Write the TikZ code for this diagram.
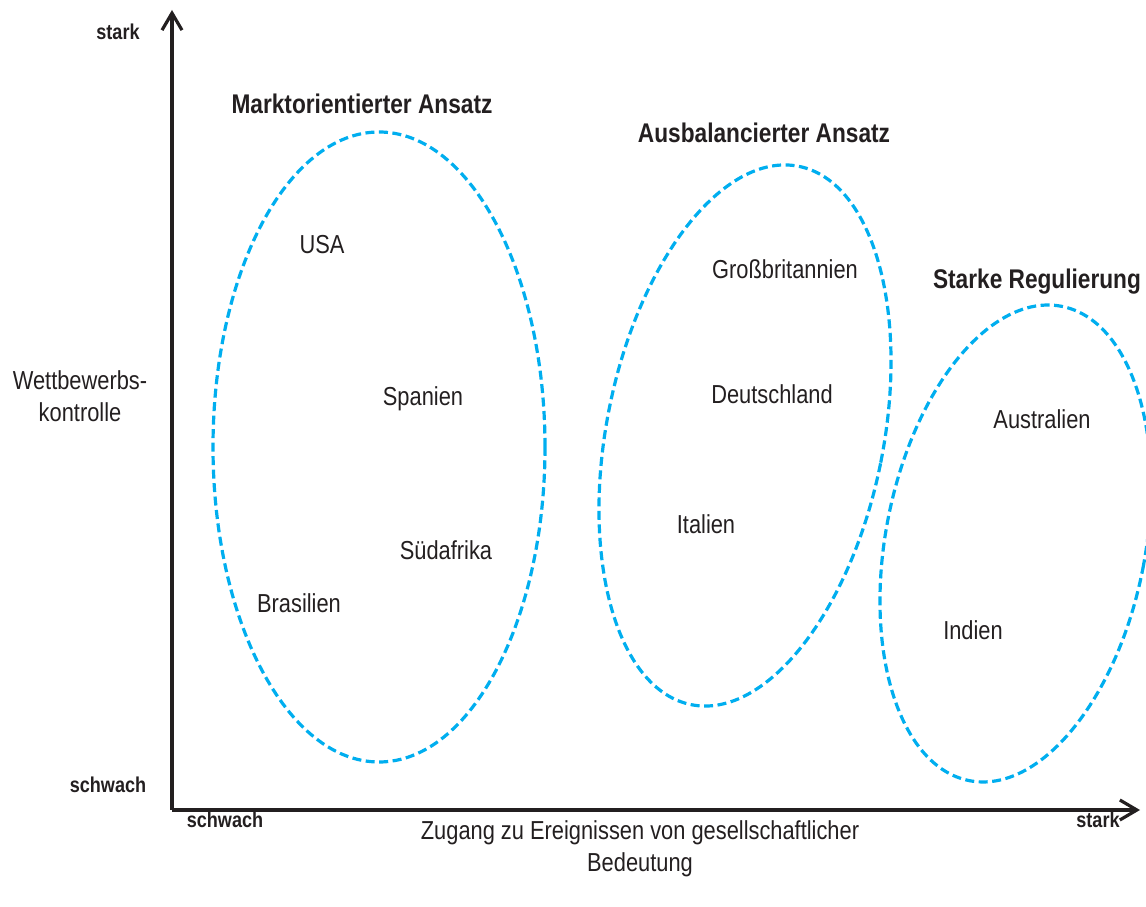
\documentclass[tikz,border=0pt]{standalone}
\usepackage{fontspec}
\setmainfont{Liberation Sans}[FakeStretch=0.84]
\usetikzlibrary{arrows.meta}
\definecolor{ink}{HTML}{231F20}
\definecolor{cyanline}{HTML}{00AEEF}
\def\axislw{3.2pt}
\def\ovallw{3.2pt}
\tikzset{
  land/.style={text=ink, font=\fontsize{26}{31}\selectfont, inner sep=0pt},
  group/.style={text=ink, font=\bfseries\fontsize{27}{31}\selectfont, inner sep=0pt},
  scalelabel/.style={text=ink, font=\bfseries\fontsize{21.5}{25}\selectfont, inner sep=0pt},
  axislabel/.style={text=ink, font=\fontsize{26}{31.5}\selectfont, align=center, inner sep=0pt},
  oval/.style={cyanline, line width=\ovallw, dash pattern=on 9pt off 4.5pt},
  axis/.style={ink, line width=\axislw, -{Straight Barb[length=17pt,width=20pt,line width=\axislw]}}
}
\begin{document}
\begin{tikzpicture}[x=1pt,y=1pt]
\useasboundingbox (0,0) rectangle (1146,907);
\clip (0,0) rectangle (1146,907);

% Axes
\coordinate (O) at (172,97);
\coordinate (Ytop) at (172,897);
\coordinate (Xend) at (1140,97);
\draw[axis] (O) -- (Ytop);
\draw[axis] (O) -- (Xend);

% Groups (dashed ovals)
\draw[oval] (379,460) ellipse [x radius=166, y radius=315];
\draw[oval] (745,471.5) ellipse [x radius=138.4, y radius=274.5, rotate=-11.3];
\draw[oval] (1015.5,363.5) ellipse [x radius=129.8, y radius=241.6, rotate=-11];

% Axis labels
\node[scalelabel] (ystark) at (118,875) {stark};
\node[scalelabel] (yschwach) at (108,122) {schwach};
\node[scalelabel] (xschwach) at (225,87) {schwach};
\node[scalelabel] (xstark) at (1098,87) {stark};
\node[axislabel] (ytitle) at (80,511) {Wettbewerbs-\\kontrolle};
\node[axislabel] (xtitle) at (640,58) {Zugang zu Ereignissen von gesellschaftlicher\\Bedeutung};

% Group titles
\node[group] (markt) at (362,803) {Marktorientierter Ansatz};
\node[group] (balance) at (764,774) {Ausbalancierter Ansatz};
\node[group] (regul) at (1037,625) {Starke Regulierung};

% Countries
\node[land] (usa) at (322,662) {USA};
\node[land] (spanien) at (423,508) {Spanien};
\node[land] (suedafrika) at (446,357) {Südafrika};
\node[land] (brasilien) at (299,304) {Brasilien};
\node[land] (gb) at (785,638) {Großbritannien};
\node[land] (deutschland) at (772,513) {Deutschland};
\node[land] (italien) at (706,383) {Italien};
\node[land] (australien) at (1042,488) {Australien};
\node[land] (indien) at (973,277) {Indien};

\end{tikzpicture}
\end{document}
